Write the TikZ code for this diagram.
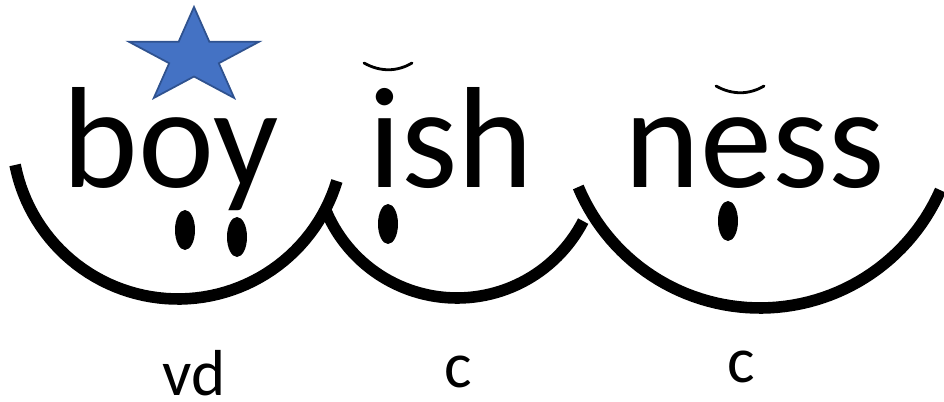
\documentclass[tikz,border=0pt]{standalone}
\usepackage{fontspec}
\setmainfont{Carlito}
\usepackage{tikz}
\usetikzlibrary{positioning,calc}
\definecolor{starBlue}{RGB}{68,114,196}
\definecolor{starEdge}{RGB}{47,82,143}
\tikzset{
  arcln/.style={line width=6.6pt, line cap=butt},
  breveln/.style={line width=1.6pt, line cap=round},
  wordtxt/.style={inner sep=0pt, anchor=base, font=\fontsize{82}{90}\selectfont},
  lbltxt/.style={inner sep=0pt, anchor=base, text depth=0pt, font=\fontsize{37}{42}\selectfont},
}
\begin{document}
\begin{tikzpicture}[x=0.02cm, y=-0.02cm]
    \useasboundingbox (0,0) rectangle (944,402);
    % syllable arcs
    \draw[arcln, domain=158.5:27.3, samples=60]
      plot ({457 + 142*cos(\x)}, {156 + 142*sin(\x)});
    \draw[arcln, domain=168.9:16.8, samples=60]
      plot ({178 + 166*cos(\x)}, {133 + 166*sin(\x)});
    \draw[arcln, domain=157.3:23.7, samples=60]
      plot ({760 + 197*cos(\x)}, {111 + 197*sin(\x)});
    % words
    \node[wordtxt] (boy) at (171,188) {boy};
    \node[wordtxt] (ish) at (451,188) {ish};
    \node[wordtxt] (ness) at (755,188) {ness};
    % short-vowel marks
    \draw[breveln] (364,63) .. controls (380,72) and (397,72) .. (412,63);
    \draw[breveln] (716,86) .. controls (732,95) and (749,95) .. (764,86);
    % vowel dots
    \fill (185,230) ellipse [x radius=10, y radius=20];
    \fill (237,237) ellipse [x radius=10, y radius=20];
    \fill (388,224) ellipse [x radius=10, y radius=20];
    \fill (728,221) ellipse [x radius=10, y radius=20];
    % star over the base word
    \begin{scope}[shift={(194,57.3)}, xscale=1.36]
      \filldraw[fill=starBlue, draw=starEdge, line width=1pt, line join=miter]
        (-90:50.3) -- (-54:19.2) -- (-18:50.3) -- (18:19.2) -- (54:50.3)
        -- (90:19.2) -- (126:50.3) -- (162:19.2) -- (198:50.3) -- (234:19.2) -- cycle;
    \end{scope}
    % syllable types
    \node[lbltxt] (vd) at (194,395) {vd};
    \node[lbltxt] (c1) at (458,387) {c};
    \node[lbltxt] (c2) at (741,382) {c};
  \end{tikzpicture}
\end{document}
